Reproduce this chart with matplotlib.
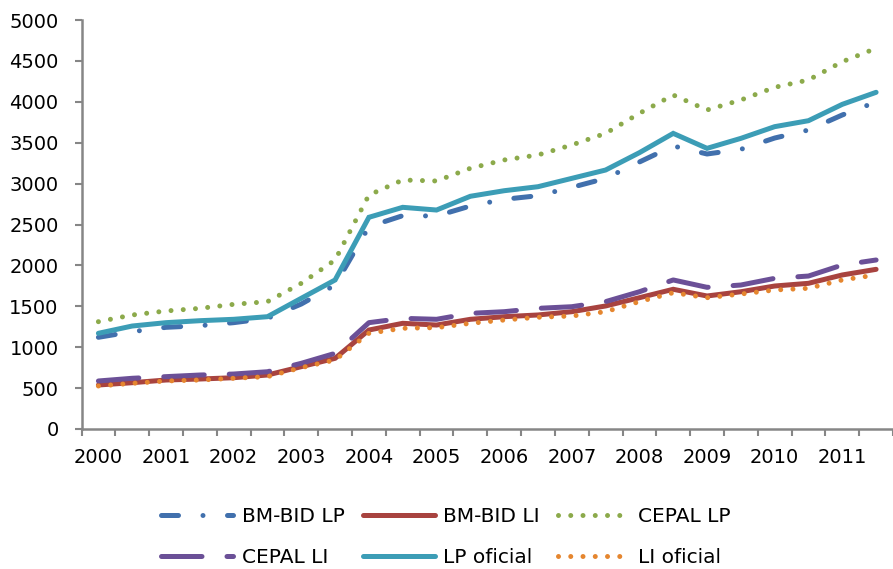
import numpy as np
import matplotlib
matplotlib.use("Agg")
import matplotlib.pyplot as plt

# semestres 2000-I .. 2011-II
years = [str(y) for y in range(2000, 2012)]
n_sem = 24

bmbid_lp = [1121, 1190, 1243, 1263, 1300, 1353, 1528, 1760, 2473, 2608, 2604, 2726,
            2808, 2852, 2954, 3064, 3264, 3460, 3362, 3419, 3557, 3655, 3839, 3998]
bmbid_li = [538, 566, 599, 611, 627, 660, 762, 864, 1210, 1292, 1271, 1341,
            1373, 1394, 1434, 1504, 1605, 1708, 1626, 1678, 1748, 1781, 1883, 1952]
cepal_lp = [1312, 1394, 1443, 1475, 1524, 1557, 1781, 2066, 2860, 3044, 3032, 3187,
            3289, 3350, 3472, 3614, 3859, 4083, 3900, 4022, 4177, 4267, 4490, 4654]
cepal_li = [587, 620, 640, 660, 672, 700, 803, 925, 1300, 1353, 1341, 1414,
            1434, 1475, 1495, 1557, 1678, 1822, 1732, 1760, 1842, 1870, 2005, 2066]
lp_oficial = [1170, 1259, 1300, 1324, 1341, 1373, 1598, 1822, 2588, 2710, 2677, 2845,
              2913, 2962, 3064, 3166, 3378, 3614, 3431, 3553, 3696, 3769, 3969, 4116]
li_oficial = [526, 558, 587, 599, 620, 640, 750, 844, 1170, 1231, 1239, 1292,
              1332, 1366, 1381, 1434, 1557, 1666, 1605, 1650, 1699, 1720, 1822, 1883]

plt.rcParams["font.family"] = ["DejaVu Sans"]
fig = plt.figure(figsize=(8.93, 5.69), dpi=100)
ax = fig.add_axes([81.5 / 893, 140 / 569, 1 - 81.5 / 893, 409 / 569])

x = np.arange(n_sem)
lw = 3.6
dot = (0, (0.001, 2.45))
series = [
    (bmbid_lp, "BM-BID LP", "#4170AD", (0, (3.4, 4.9, 0.001, 4.9))),
    (bmbid_li, "BM-BID LI", "#A8433F", "-"),
    (cepal_lp, "CEPAL LP", "#8CAA4B", dot),
    (cepal_li, "CEPAL LI", "#6B5097", (0, (8.1, 5.0))),
    (lp_oficial, "LP oficial", "#3C9DB6", "-"),
    (li_oficial, "LI oficial", "#E5862F", dot),
]
lines = []
for vals, lab, col, ls in series:
    ln, = ax.plot(x, vals, color=col, lw=lw, ls=ls, label=lab,
                  dash_capstyle="round", solid_capstyle="round", solid_joinstyle="miter")
    lines.append(ln)

ax.set_xlim(-0.5, 23.29)
ax.set_ylim(0, 5000)
ax.set_yticks(np.arange(0, 5001, 500))
ax.set_xticks(np.arange(0, n_sem, 2), years)
ax.set_xticks(np.arange(-0.5, n_sem, 1), minor=True)
ax.tick_params(axis="x", which="major", length=0, pad=13.5, labelsize=14)
ax.tick_params(axis="x", which="minor", length=5, width=1.5, color="#868686")
ax.tick_params(axis="y", length=5, width=1.5, color="#868686", pad=11.5, labelsize=14)

for s in ["top", "right"]:
    ax.spines[s].set_visible(False)
for s in ["left", "bottom"]:
    ax.spines[s].set_color("#868686")
    ax.spines[s].set_linewidth(1.8)

# leyenda por filas, como en Excel
order = [0, 3, 1, 4, 2, 5]
fig.legend([lines[i] for i in order], [series[i][1] for i in order],
           loc="center", bbox_to_anchor=(446 / 893, 1 - 537 / 569), ncol=3,
           frameon=False, fontsize=14.5, handlelength=3.6, handletextpad=0.4,
           columnspacing=0.9, labelspacing=1.05)

fig.savefig("out.png", dpi=100)
